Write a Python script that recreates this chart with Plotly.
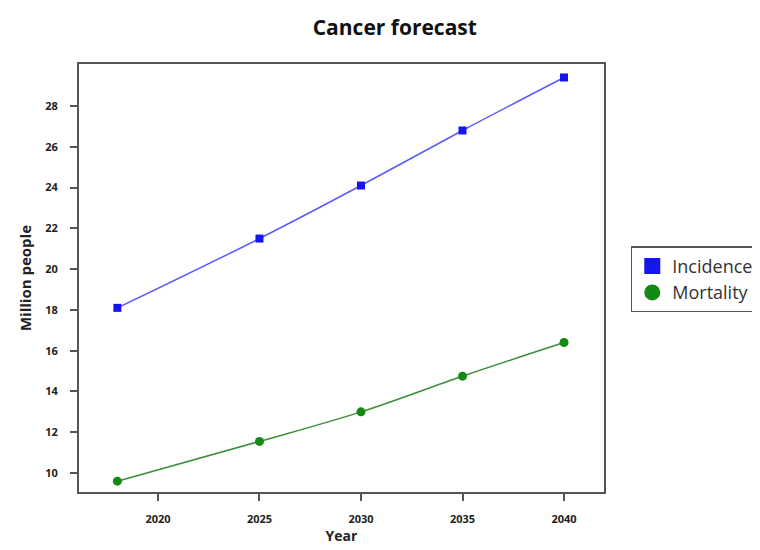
import plotly.graph_objects as go

years = [2018, 2025, 2030, 2035, 2040]
incidence = [18.1, 21.5, 24.1, 26.8, 29.4]
mortality = [9.6, 11.55, 13.0, 14.75, 16.4]
x_ticks = [2020, 2025, 2030, 2035, 2040]
y_ticks = [10, 12, 14, 16, 18, 20, 22, 24, 26, 28]
series_names = ["Incidence", "Mortality"]

BLUE_LINE, BLUE_MK = "#5a5aff", "#1515f0"
GREEN_LINE, GREEN_MK = "#3a8f3a", "#138a13"

fig = go.Figure()
fig.add_trace(go.Scatter(
    x=years, y=incidence, name=series_names[0], mode="lines+markers", showlegend=False,
    line=dict(color=BLUE_LINE, width=1.5, shape="spline"),
    marker=dict(symbol="square", size=8, color=BLUE_MK),
))
fig.add_trace(go.Scatter(
    x=years, y=mortality, name=series_names[1], mode="lines+markers", showlegend=False,
    line=dict(color=GREEN_LINE, width=1.5, shape="spline"),
    marker=dict(symbol="circle", size=9, color=GREEN_MK),
))
# legend entries (marker only)
fig.add_trace(go.Scatter(x=[None], y=[None], name=series_names[0], mode="markers",
                         marker=dict(symbol="square", size=16, color=BLUE_MK)))
fig.add_trace(go.Scatter(x=[None], y=[None], name=series_names[1], mode="markers",
                         marker=dict(symbol="circle", size=16, color=GREEN_MK)))

axis_common = dict(
    showgrid=False, zeroline=False, showline=True, mirror=True,
    linecolor="#555555", linewidth=2, ticks="outside", ticklen=7,
    tickcolor="#555555", tickwidth=1.5,
    tickfont=dict(family="Open Sans", size=11, color="#222222", weight="bold"),
)
fig.update_xaxes(range=[2016.11, 2041.97], tickvals=x_ticks, ticklabelstandoff=9,
                 title=dict(text="<b>Year</b>", font=dict(family="Open Sans", size=14, color="#222"), standoff=6),
                 **axis_common)
fig.update_yaxes(range=[9.07, 30.06], tickvals=y_ticks, ticklabelstandoff=10,
                 title=dict(text="<b>Million people</b>", font=dict(family="Open Sans", size=15, color="#222"), standoff=10),
                 **axis_common)

fig.update_layout(
    width=760, height=550,
    margin=dict(l=71, r=164, t=56, b=66, autoexpand=False),
    paper_bgcolor="white", plot_bgcolor="white",
    title=dict(text="<b>Cancer forecast</b>", x=0.509, xanchor="center", y=0.965, yanchor="middle",
               font=dict(family="Open Sans", size=21, color="#111")),
    legend=dict(x=1.051, y=0.574, xanchor="left", yanchor="top",
                bordercolor="#555555", borderwidth=1.5,
                font=dict(family="Open Sans", size=18, color="#333"),
                tracegroupgap=0, itemsizing="trace", itemwidth=30),
)
fig.write_html("out.html")
